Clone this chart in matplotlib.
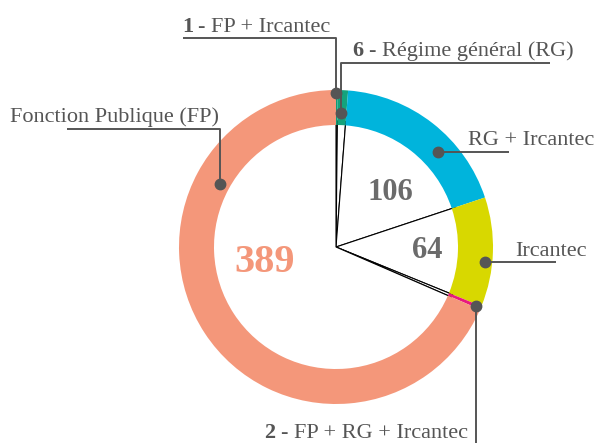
import numpy as np
import matplotlib.pyplot as plt

# donnees
categories = ['FP + Ircantec', 'Régime général (RG)', 'RG + Ircantec',
              'Ircantec', 'FP + RG + Ircantec', 'Fonction Publique (FP)']
valeurs = [1, 6, 106, 64, 2, 389]
couleurs = ['#0f9a78', '#14a37c', '#00b4dc', '#d8d800', '#e8197e', '#f4977a']

W, H = 597, 443
def Y(y):
    # pixels depuis le haut -> coordonnees de l'axe
    return H - y

centre = (336, Y(247))
r_ext, r_int = 157, 122
gris = '#555555'
serif = ['Liberation Serif', 'DejaVu Serif']

fig = plt.figure(figsize=(W / 100, H / 100), dpi=100)
ax = fig.add_axes([0, 0, 1, 1])

# rayons du centre (camembert blanc, bords noirs) -- l'arc passe sous l'anneau
ax.pie(valeurs, center=centre, radius=r_int + 4, startangle=90, counterclock=False,
       colors=['white'] * len(valeurs),
       wedgeprops=dict(edgecolor='black', linewidth=0.8))
# anneau
ax.pie(valeurs, center=centre, radius=r_ext, startangle=90, counterclock=False,
       colors=couleurs, wedgeprops=dict(width=r_ext - r_int, linewidth=0))

ax.set_xlim(0, W)
ax.set_ylim(0, H)
ax.set_aspect('equal')
ax.axis('off')

# chiffres au centre
ax.text(265, Y(263), str(valeurs[5]), color='#f4977a', fontsize=29,
        fontweight='bold', family=serif, ha='center', va='center')
ax.text(390, Y(192), str(valeurs[2]), color='#6b6b6b', fontsize=22,
        fontweight='bold', family=serif, ha='center', va='center')
ax.text(427, Y(250), str(valeurs[3]), color='#6b6b6b', fontsize=22,
        fontweight='bold', family=serif, ha='center', va='center')

def point(x, y):
    ax.plot(x, Y(y), 'o', color=gris, markersize=7.5, zorder=5)

def trait(xs, ys):
    ax.plot(xs, [Y(v) for v in ys], color=gris, linewidth=1.4, zorder=4,
            solid_capstyle='butt')

def etiquette(x, y, texte, num=None, xnum=None):
    if num is not None:
        ax.text(xnum, Y(y), str(num), color=gris, fontsize=16, fontweight='bold',
                family=serif, ha='right', va='baseline')
    ax.text(x, Y(y), texte, color=gris, fontsize=16, family=serif,
            ha='left', va='baseline')

# 1 - FP + Ircantec
etiquette(198, 32, '- FP + Ircantec', valeurs[0], 193)
trait([183, 336, 336], [38, 38, 93])
point(336, 93)

# 6 - Regime general
etiquette(369, 56, '- Régime général (RG)', valeurs[1], 363)
trait([550, 341, 341], [63, 63, 113])
point(341, 113)

# Fonction Publique
etiquette(10, 122, categories[5])
trait([67, 220, 220], [129, 129, 184])
point(220, 184)

# RG + Ircantec
etiquette(468, 145, categories[2])
trait([438, 509], [152, 152])
point(438, 152)

# Ircantec
etiquette(515, 256, categories[3])
trait([485, 556], [262, 262])
point(485, 262)

# 2 - FP + RG + Ircantec
etiquette(281, 438, '- FP + RG + Ircantec', valeurs[4], 275)
trait([476, 476], [306, 443])
point(476, 306)

fig.savefig('out.png', dpi=100)
